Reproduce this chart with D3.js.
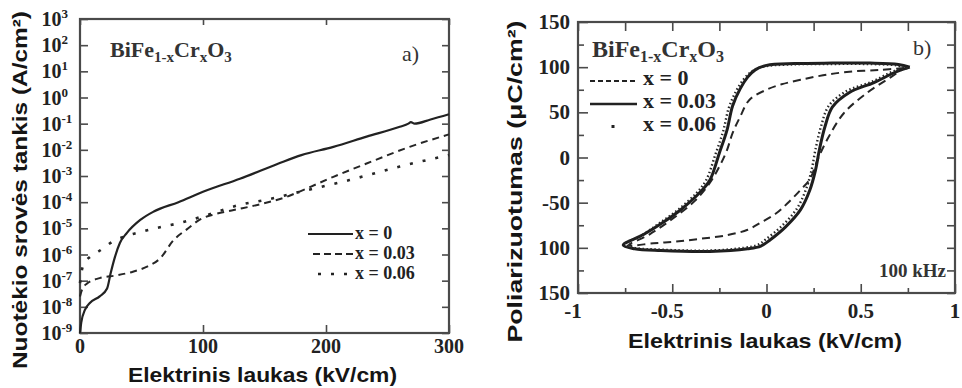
<!DOCTYPE html>
<html>
<head>
<meta charset="utf-8">
<script src="https://cdn.jsdelivr.net/npm/d3@7"></script>
<style>
  body { margin: 0; background: #fff; }
  svg { display: block; }
  .tick line { stroke: #4a4a4a; stroke-width: 1.6; }
  .lbl { font-family: "Liberation Serif", serif; font-weight: bold; fill: #222; }
  .title { font-family: "Liberation Sans", Arial, sans-serif; font-weight: bold; fill: #151515; }
</style>
</head>
<body>
<script>
// ---------- data: panel a, leakage current density vs field (kV/cm, A/cm2)
var leakX0 = [[0,1e-9],[1,2.5e-9],[4,7.6e-9],[8,1.4e-8],[16,2.5e-8],[22,5e-8],[25,2e-7],[28.5,8.3e-7],
  [32.5,2.8e-6],[38,6.6e-6],[49,2.1e-5],[60,4.4e-5],[80,1e-4],[100,2.5e-4],[130,7.9e-4],[160,2.8e-3],
  [180,6.3e-3],[206,1.3e-2],[233,3.2e-2],[260,7.6e-2],[267,1e-1],[269,1.15e-1],[272,1e-1],[285,1.45e-1],[300,2.3e-1]];
var leakX003 = [[0,2.5e-8],[2,5e-8],[6,7.9e-8],[16,1.25e-7],[30,1.6e-7],[43,2.2e-7],[55,3.5e-7],[65,7e-7],
  [76,3.5e-6],[88,1e-5],[97,2.1e-5],[110,3.5e-5],[125,5e-5],[145,8e-5],[168,1.6e-4],[179,2.6e-4],
  [206,9.3e-4],[233,3e-3],[268,1.3e-2],[300,3.9e-2]];
var leakX006 = [[0,8e-8],[1.5,2.5e-7],[4,5e-7],[8,8e-7],[15,1.3e-6],[27,3.2e-6],[40,5.6e-6],[50,7.4e-6],
  [65,1.1e-5],[81,1.6e-5],[103,3.2e-5],[130,7.9e-5],[150,1.2e-4],[179,2.5e-4],[219,7e-4],[260,2.3e-3],[300,6.3e-3]];

var xTicksA = [0, 100, 200, 300];
var yDecadesA = [-9,-8,-7,-6,-5,-4,-3,-2,-1,0,1,2,3];

// ---------- data: panel b, P-E hysteresis loops (kV/cm, uC/cm2)
var loopX0 = [[0.73,99],[0.60,97],[0.44,95],[0.30,91],[0.18,86],[0.08,81],[0.0,75],[-0.09,64],[-0.14,45],
  [-0.18,27],[-0.21,8],[-0.25,-10],[-0.30,-28],[-0.38,-48],[-0.50,-68],[-0.62,-85],[-0.73,-97],[-0.60,-95],
  [-0.48,-93],[-0.35,-90],[-0.21,-86],[-0.10,-80],[-0.03,-72],[0.05,-62],[0.11,-51],[0.18,-36],[0.23,-24],
  [0.27,-3],[0.32,19],[0.41,49],[0.53,71],[0.66,89],[0.73,99]];
var loopX003 = [[0.76,100],[0.70,103],[0.55,104.5],[0.35,104.5],[0.15,104],[0.0,102],[-0.06,97],[-0.10,89],
  [-0.14,76],[-0.18,57],[-0.21,30],[-0.25,5],[-0.30,-25],[-0.35,-38],[-0.45,-57],[-0.55,-72],[-0.65,-85],
  [-0.76,-97],[-0.70,-101],[-0.56,-103],[-0.30,-104],[-0.10,-101],[-0.03,-98],[0.02,-91],[0.10,-77],
  [0.18,-58],[0.23,-36],[0.26,-14],[0.28,8],[0.31,34],[0.35,56],[0.44,72],[0.57,83],[0.69,95],[0.76,100]];
var loopX006 = [[0.75,99],[0.69,102],[0.53,103.5],[0.33,103.5],[0.13,103],[-0.02,100.5],[-0.08,95],[-0.12,87],
  [-0.16,74],[-0.20,55],[-0.23,29],[-0.27,4],[-0.32,-25],[-0.37,-39],[-0.47,-58],[-0.57,-73],[-0.66,-86],
  [-0.75,-96],[-0.70,-100],[-0.56,-102],[-0.30,-103],[-0.12,-100],[-0.05,-97],[0.00,-90],[0.08,-76],
  [0.16,-57],[0.21,-35],[0.24,-13],[0.26,9],[0.29,35],[0.33,57],[0.42,73],[0.56,84],[0.68,96],[0.75,99]];

var xTicksB = [-1, -0.5, 0, 0.5, 1];
var xMinorB = [-0.75, -0.25, 0.25, 0.75];
var yTicksB = [150, 100, 50, 0, -50, -100, -150];
var yTickLabelsB = ["150", "100", "50", "0", "-50", "100", "150"];
var yMinorB = [125, 75, 25, -25, -75, -125];

var legendLabels = ["x = 0", "x = 0.03", "x = 0.06"];

var svg = d3.select("body").append("svg")
  .attr("width", 962)
  .attr("height", 388);

// ================= panel a =================
var A = {left: 80, right: 449, top: 19, bottom: 333};
var xA = d3.scaleLinear().domain([0, 300]).range([A.left, A.right]);
var yA = d3.scaleLog().domain([1e-9, 1e3]).range([A.bottom, A.top]);
var decadeVals = yDecadesA.map(function(p){ return Math.pow(10, p); });

var gA = svg.append("g");
gA.append("g").attr("transform", `translate(0,${A.bottom})`)
  .call(d3.axisBottom(xA).tickValues(xTicksA).tickSizeInner(-8).tickSizeOuter(0).tickFormat(""));
gA.append("g").attr("transform", `translate(0,${A.top})`)
  .call(d3.axisTop(xA).tickValues(xTicksA).tickSizeInner(-6).tickSizeOuter(0).tickFormat(""));
gA.append("g").attr("transform", `translate(${A.left},0)`)
  .call(d3.axisLeft(yA).tickValues(decadeVals).tickSizeInner(-8).tickSizeOuter(0).tickFormat(""));
gA.append("g").attr("transform", `translate(${A.right},0)`)
  .call(d3.axisRight(yA).tickValues(decadeVals).tickSizeInner(-7).tickSizeOuter(0).tickFormat(""));
gA.selectAll(".domain").remove();

gA.append("rect")
  .attr("x", A.left).attr("y", A.top)
  .attr("width", A.right - A.left).attr("height", A.bottom - A.top)
  .attr("fill", "none").attr("stroke", "#4a4a4a").attr("stroke-width", 2.2);

// y tick labels 10^n
yDecadesA.forEach(function(p){
  var t = gA.append("text").attr("class", "lbl")
    .attr("x", 41.5).attr("y", yA(Math.pow(10, p)) + 7)
    .style("font-size", "20px");
  t.append("tspan").text("10");
  t.append("tspan").attr("dy", -8).style("font-size", "13px").text(p);
});
// x tick labels
gA.selectAll(".xlabA").data(xTicksA).enter().append("text")
  .attr("class", "lbl")
  .attr("x", d => xA(d)).attr("y", 353)
  .attr("text-anchor", "middle")
  .style("font-size", "20px")
  .text(d => d);

var lineA = d3.line()
  .x(d => xA(d[0]))
  .y(d => yA(d[1]))
  .curve(d3.curveMonotoneX);

gA.append("path").datum(leakX003).attr("d", lineA)
  .attr("fill", "none").attr("stroke", "#262626").attr("stroke-width", 2)
  .attr("stroke-dasharray", "7,5");
gA.append("path").datum(leakX006).attr("d", lineA)
  .attr("fill", "none").attr("stroke", "#262626").attr("stroke-width", 2.6)
  .attr("stroke-dasharray", "3,10");
gA.append("path").datum(leakX0).attr("d", lineA)
  .attr("fill", "none").attr("stroke", "#222").attr("stroke-width", 2.2);

// formula + panel letter
var fA = gA.append("text").attr("class", "lbl").attr("x", 110).attr("y", 57).style("font-size", "22px").style("fill", "#333");
fA.append("tspan").text("BiFe");
fA.append("tspan").attr("dy", 5).style("font-size", "15px").text("1-x");
fA.append("tspan").attr("dy", -5).text("Cr");
fA.append("tspan").attr("dy", 5).style("font-size", "15px").text("x");
fA.append("tspan").attr("dy", -5).text("O");
fA.append("tspan").attr("dy", 5).style("font-size", "15px").text("3");
gA.append("text").attr("x", 402).attr("y", 61)
  .style("font-family", "Liberation Serif, serif").style("font-size", "22px").style("fill", "#333")
  .text("a)");

// legend a
var legA = [{dash: null, x0: 308, w: 2.2}, {dash: "7,4", x0: 313, w: 2}, {dash: "3,10", x0: 318, w: 2.6}];
legA.forEach(function(s, i){
  var by = 239 + i * 20;
  gA.append("line").attr("x1", s.x0).attr("x2", 353).attr("y1", by - 5).attr("y2", by - 5)
    .attr("stroke", "#222").attr("stroke-width", s.w).attr("stroke-dasharray", s.dash);
  gA.append("text").attr("class", "lbl").attr("x", 355).attr("y", by)
    .style("font-size", "18px").text(legendLabels[i]);
});

// axis titles a
svg.append("text").attr("class", "title")
  .attr("transform", "translate(27,190) rotate(-90)")
  .attr("text-anchor", "middle")
  .attr("textLength", 358).attr("lengthAdjust", "spacingAndGlyphs")
  .style("font-size", "21px")
  .text("Nuotėkio srovės tankis (A/cm²)");
svg.append("text").attr("class", "title")
  .attr("x", 262.5).attr("y", 382)
  .attr("text-anchor", "middle")
  .attr("textLength", 269).attr("lengthAdjust", "spacingAndGlyphs")
  .style("font-size", "21px")
  .text("Elektrinis laukas (kV/cm)");

// ================= panel b =================
var B = {left: 578, right: 955, top: 22, bottom: 293};
var xB = d3.scaleLinear().domain([-1, 1]).range([B.left, B.right]);
var yB = d3.scaleLinear().domain([-150, 150]).range([B.bottom, B.top]);

var gB = svg.append("g");
function ticksB(axis, vals, size, tr){
  gB.append("g").attr("transform", tr)
    .call(axis.tickValues(vals).tickSizeInner(-size).tickSizeOuter(0).tickFormat(""));
}
ticksB(d3.axisBottom(xB), xTicksB, 9, `translate(0,${B.bottom})`);
ticksB(d3.axisBottom(xB), xMinorB, 5, `translate(0,${B.bottom})`);
ticksB(d3.axisTop(xB), xTicksB, 9, `translate(0,${B.top})`);
ticksB(d3.axisTop(xB), xMinorB, 9, `translate(0,${B.top})`);
ticksB(d3.axisLeft(yB), yTicksB, 10, `translate(${B.left},0)`);
ticksB(d3.axisLeft(yB), yMinorB, 6, `translate(${B.left},0)`);
ticksB(d3.axisRight(yB), yTicksB, 8, `translate(${B.right},0)`);
ticksB(d3.axisRight(yB), yMinorB, 8, `translate(${B.right},0)`);
gB.selectAll(".domain").remove();

gB.append("rect")
  .attr("x", B.left).attr("y", B.top)
  .attr("width", B.right - B.left).attr("height", B.bottom - B.top)
  .attr("fill", "none").attr("stroke", "#4a4a4a").attr("stroke-width", 2.2);

gB.selectAll(".ylabB").data(yTicksB).enter().append("text")
  .attr("class", "lbl")
  .attr("x", 570).attr("y", d => yB(d) + 7)
  .attr("text-anchor", "end")
  .style("font-size", "21px")
  .text((d, i) => yTickLabelsB[i]);
gB.selectAll(".xlabB").data(xTicksB).enter().append("text")
  .attr("class", "lbl")
  .attr("x", d => xB(d) + (d < 0 ? -5 : 0)).attr("y", 318)
  .attr("text-anchor", "middle")
  .style("font-size", "21px")
  .text(d => d);

var lineB = d3.line()
  .x(d => xB(d[0]))
  .y(d => yB(d[1]))
  .curve(d3.curveCatmullRom.alpha(0.5));

gB.append("path").datum(loopX0).attr("d", lineB)
  .attr("fill", "none").attr("stroke", "#262626").attr("stroke-width", 2)
  .attr("stroke-dasharray", "8,5");
gB.append("path").datum(loopX003).attr("d", lineB)
  .attr("fill", "none").attr("stroke", "#1e1e1e").attr("stroke-width", 3);
gB.append("path").datum(loopX006).attr("d", lineB)
  .attr("fill", "none").attr("stroke", "#262626").attr("stroke-width", 2.4)
  .attr("stroke-dasharray", "1.5,2.5");

var fB = gB.append("text").attr("class", "lbl").attr("x", 592).attr("y", 57).style("font-size", "24px").style("fill", "#333");
fB.append("tspan").text("BiFe");
fB.append("tspan").attr("dy", 5).style("font-size", "16px").text("1-x");
fB.append("tspan").attr("dy", -5).text("Cr");
fB.append("tspan").attr("dy", 5).style("font-size", "16px").text("x");
fB.append("tspan").attr("dy", -5).text("O");
fB.append("tspan").attr("dy", 5).style("font-size", "16px").text("3");
gB.append("text").attr("x", 913).attr("y", 55)
  .style("font-family", "Liberation Serif, serif").style("font-size", "22px").style("fill", "#333")
  .text("b)");
gB.append("text").attr("class", "lbl").attr("x", 946).attr("y", 277)
  .attr("text-anchor", "end").style("font-size", "19px").style("fill", "#333")
  .text("100 kHz");

// legend b
var legB = [{dash: "5,3", w: 2}, {dash: null, w: 2.6}];
legB.forEach(function(s, i){
  var by = 85 + i * 23;
  gB.append("line").attr("x1", 590).attr("x2", 637).attr("y1", by - 4).attr("y2", by - 4)
    .attr("stroke", "#222").attr("stroke-width", s.w).attr("stroke-dasharray", s.dash);
});
gB.append("rect").attr("x", 611.5).attr("y", 125).attr("width", 3).attr("height", 3).attr("fill", "#222");
legendLabels.forEach(function(t, i){
  gB.append("text").attr("class", "lbl").attr("x", 643).attr("y", 85 + i * 23)
    .style("font-size", "22px").text(t);
});

svg.append("text").attr("class", "title")
  .attr("transform", "translate(522,181.5) rotate(-90)")
  .attr("text-anchor", "middle")
  .attr("textLength", 322).attr("lengthAdjust", "spacingAndGlyphs")
  .style("font-size", "21px")
  .text("Poliarizuotumas (μC/cm²)");
svg.append("text").attr("class", "title")
  .attr("x", 765).attr("y", 348)
  .attr("text-anchor", "middle")
  .attr("textLength", 274).attr("lengthAdjust", "spacingAndGlyphs")
  .style("font-size", "21px")
  .text("Elektrinis laukas (kV/cm)");
</script>
</body>
</html>
